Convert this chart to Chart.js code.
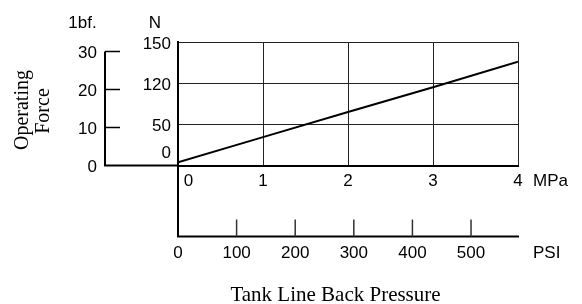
<!DOCTYPE html>
<html>
<head>
<meta charset="utf-8">
<script src="https://cdn.jsdelivr.net/npm/chart.js@4"></script>
<style>
  html, body { margin: 0; padding: 0; background: #fff; }
  canvas { display: block; }
</style>
</head>
<body>
<canvas id="c" width="582" height="304"></canvas>
<script>
// ---- data ----
const mpaValues = [0, 1, 2, 3, 4];
const forceN = [4, 34.5, 65, 95, 126];

// ---- tick labels ----
const mpaTicks = [0, 1, 2, 3, 4];
const nTickValues = [50, 100, 150];
const nTickLabels = ['50', '120', '150'];
const lbfTicks = [0, 10, 20, 30];
const psiTicks = [0, 100, 200, 300, 400, 500];

const SANS = '"Liberation Sans", Arial, sans-serif';
const SERIF = '"Liberation Serif", "Times New Roman", serif';

const decor = {
  id: 'decor',
  afterDraw(chart) {
    const ctx = chart.ctx;
    const a = chart.chartArea;
    const sx = chart.scales.x, sy = chart.scales.y;
    const lbf = chart.scales.lbf, psi = chart.scales.psi;
    const lbfX = 105, psiY = 236.5;
    ctx.save();
    ctx.strokeStyle = '#000';
    ctx.fillStyle = '#000';
    ctx.lineCap = 'butt';

    // lbf axis
    ctx.lineWidth = 2;
    ctx.beginPath();
    ctx.moveTo(lbfX, lbf.getPixelForValue(30));
    ctx.lineTo(lbfX, a.bottom);
    ctx.lineTo(a.left, a.bottom);
    ctx.stroke();
    ctx.lineWidth = 1.5;
    lbfTicks.forEach(v => {
      if (v === 0) return;
      const y = lbf.getPixelForValue(v);
      ctx.beginPath(); ctx.moveTo(lbfX, y); ctx.lineTo(lbfX + 15, y); ctx.stroke();
    });
    ctx.font = '17px ' + SANS;
    ctx.textAlign = 'right';
    ctx.textBaseline = 'middle';
    lbfTicks.forEach(v => {
      ctx.fillText(String(v), 97, lbf.getPixelForValue(v) + 1.5);
    });

    // N labels
    nTickValues.forEach((v, i) => {
      ctx.fillText(nTickLabels[i], 171, sy.getPixelForValue(v) + 2);
    });
    ctx.fillText('0', 171, sy.getPixelForValue(0) - 12);

    // unit headers
    ctx.textAlign = 'center';
    ctx.fillText('N', 155, 23);
    ctx.fillText('1bf.', 82.5, 23);

    // MPa labels
    mpaTicks.forEach(v => {
      const x = sx.getPixelForValue(v) + (v === 0 ? 10.5 : 0);
      ctx.fillText(String(v), x, 181);
    });
    ctx.textAlign = 'left';
    ctx.fillText('MPa', 533, 181);

    // extended left axis down to PSI axis
    ctx.lineWidth = 2;
    ctx.beginPath();
    ctx.moveTo(a.left, a.bottom);
    ctx.lineTo(a.left, psiY);
    ctx.lineTo(a.right + 1, psiY);
    ctx.stroke();

    // PSI ticks
    ctx.strokeStyle = '#333';
    ctx.lineWidth = 1.5;
    psiTicks.forEach(v => {
      if (v === 0) return;
      const x = psi.getPixelForValue(v);
      ctx.beginPath(); ctx.moveTo(x, psiY - 17); ctx.lineTo(x, psiY); ctx.stroke();
    });
    ctx.textAlign = 'center';
    psiTicks.forEach(v => {
      ctx.fillText(String(v), psi.getPixelForValue(v), 253);
    });
    ctx.textAlign = 'left';
    ctx.fillText('PSI', 533, 253);

    // titles
    ctx.font = '21px ' + SERIF;
    ctx.textAlign = 'center';
    ctx.fillText('Tank Line Back Pressure', 335.5, 295);
    ctx.font = '20px ' + SERIF;
    ctx.save();
    ctx.translate(23, 110);
    ctx.rotate(-Math.PI / 2);
    ctx.fillText('Operating', 0, 0);
    ctx.restore();
    ctx.save();
    ctx.translate(44, 111);
    ctx.rotate(-Math.PI / 2);
    ctx.fillText('Force', 0, 0);
    ctx.restore();

    ctx.restore();
  }
};

new Chart(document.getElementById('c'), {
  type: 'line',
  data: {
    datasets: [{
      data: mpaValues.map((x, i) => ({ x: x, y: forceN[i] })),
      borderColor: '#000',
      borderWidth: 2,
      pointRadius: 0,
      tension: 0,
      fill: false
    }]
  },
  options: {
    responsive: false,
    animation: false,
    devicePixelRatio: 1,
    layout: { padding: { left: 178, top: 42, right: 64, bottom: 138.5 } },
    plugins: { legend: { display: false }, tooltip: { enabled: false } },
    scales: {
      x: {
        type: 'linear', min: 0, max: 4,
        ticks: { display: false, stepSize: 1 },
        grid: { color: '#222', lineWidth: 1, drawTicks: false },
        border: { color: '#000', width: 2 },
        afterFit: s => { s.height = 0; }
      },
      y: {
        type: 'linear', min: 0, max: 150,
        ticks: { display: false, stepSize: 50 },
        grid: { color: '#222', lineWidth: 1, drawTicks: false },
        border: { color: '#000', width: 2 },
        afterFit: s => { s.width = 0; }
      },
      lbf: { type: 'linear', position: 'left', min: 0, max: 32.5, display: false },
      psi: { type: 'linear', position: 'bottom', axis: 'x', min: 0, max: 580.15, display: false }
    }
  },
  plugins: [decor]
});
</script>
</body>
</html>
